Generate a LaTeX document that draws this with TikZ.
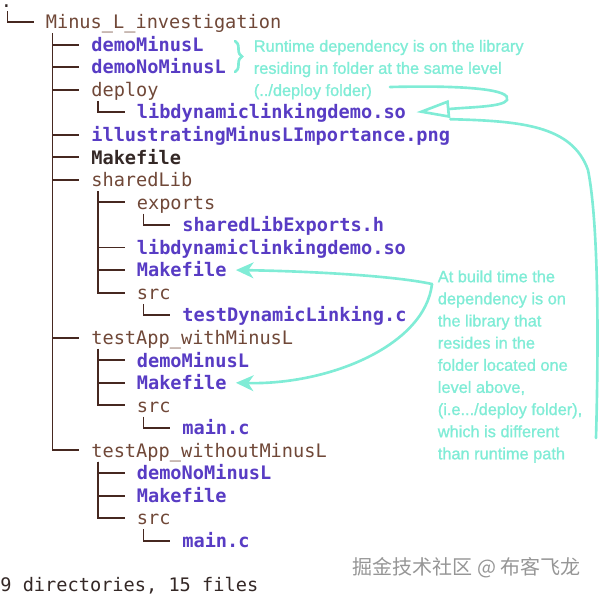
\documentclass[tikz,border=0pt]{standalone}
\usepackage{fontspec}
\newfontfamily\treefont{DejaVu Sans Mono}
\newfontfamily\notefont[FakeBold=1.2]{Liberation Sans}
\newfontfamily\cjkfont{Noto Sans CJK SC}
\usepackage{tikz}
\usetikzlibrary{arrows.meta,decorations.pathreplacing}

\definecolor{dirbrown}{RGB}{112,72,56}
\definecolor{filepurple}{RGB}{88,60,196}
\definecolor{plaindark}{RGB}{52,40,38}
\definecolor{linebrown}{RGB}{70,40,32}
\definecolor{notecyan}{RGB}{128,236,214}
\definecolor{wmgray}{RGB}{150,150,150}

\tikzset{
  entry/.style={anchor=west,inner sep=0pt,text height=10pt,text depth=2.3pt},
  dirname/.style={entry,text=dirbrown,font=\treefont\fontsize{10.6}{12}\selectfont},
  filename/.style={entry,text=filepurple,font=\treefont\bfseries\fontsize{10.6}{12}\selectfont},
  plainname/.style={entry,text=plaindark,font=\treefont\bfseries\fontsize{10.6}{12}\selectfont},
  treeline/.style={draw=linebrown,line width=1.1pt},
  note/.style={anchor=north west,inner sep=0pt,align=left,text=notecyan,
    font=\notefont\fontsize{9.3}{12.6}\selectfont},
  notearrow/.style={draw=notecyan,line width=1.5pt,line cap=round},
}

\begin{document}
\begin{tikzpicture}[x=0.02cm,y=-0.02cm]
  \useasboundingbox (0,0) rectangle (602,596);
  % directories (row/level/name/text)
  \foreach \r/\l/\nm/\txt in {1/1/root/Minus\_L\_investigation, 4/2/deploy/deploy,
      8/2/shared/sharedLib, 9/3/exports/exports, 13/3/srcA/src,
      15/2/withL/testApp\_withMinusL, 18/3/srcB/src,
      20/2/withoutL/testApp\_withoutMinusL, 23/3/srcC/src}
    \node[dirname] (\nm) at ({45.5*\l},{22+22.55*(\r-1)}) {\txt};
  % files
  \foreach \r/\l/\nm/\txt in {2/2/demoL/demoMinusL, 3/2/demoNoL/demoNoMinusL,
      5/3/deployLib/libdynamiclinkingdemo.so, 6/2/png/illustratingMinusLImportance.png,
      10/4/exportsH/sharedLibExports.h, 11/3/sharedSo/libdynamiclinkingdemo.so,
      12/3/sharedMk/Makefile, 14/4/testC/testDynamicLinking.c,
      16/3/withDemo/demoMinusL, 17/3/withMk/Makefile, 19/4/withMain/main.c,
      21/3/withoutDemo/demoNoMinusL, 22/3/withoutMk/Makefile, 24/4/withoutMain/main.c}
    \node[filename] (\nm) at ({45.5*\l},{22+22.55*(\r-1)}) {\txt};
  \node[plainname] (topMk) at (91,157.3) {Makefile};
  \node[dirname,text=plaindark,anchor=base west,text height=3pt] (dot) at (0.5,7) {.};
  \node[dirname,text=plaindark] (summary) at (0,584.5) {9 directories, 15 files};

  % tree branches
  \foreach \p/\c in {dot/root, root/demoL, root/demoNoL, root/deploy, root/png,
      root/topMk, root/shared, root/withL, root/withoutL, deploy/deployLib,
      shared/exports, shared/sharedSo, shared/sharedMk, shared/srcA,
      exports/exportsH, srcA/testC, withL/withDemo, withL/withMk, withL/srcB,
      srcB/withMain, withoutL/withoutDemo, withoutL/withoutMk, withoutL/srcC,
      srcC/withoutMain}
    \draw[treeline] ([xshift=0.14cm]\p.south west) |- ([xshift=-0.24cm]\c.west);

  % notes
  \draw[notearrow,decorate,decoration={brace,amplitude=0.14cm}] (235,41) -- (235,72);
  \node[note] (rtnote) at (253.5,39.5) {Runtime dependency is on the library\\
    residing in folder at the same level\\(../deploy folder)};
  \node[note] (btnote) at (437.5,270) {At build time the\\dependency is on\\
    the library that\\resides in the\\folder located one\\level above,\\
    (i.e.../deploy folder),\\which is different\\than runtime path};

  % runtime arrow
  \coordinate (rtstart) at (390,87);
  \coordinate (rtend) at (596,438);
  \coordinate (rttip) at ([xshift=0.2cm]deployLib.east);
  \draw[notearrow,-{Triangle[open,length=19pt,width=10pt]}] (rtstart)
    .. controls (470,85) and (512,90) .. (507,100)
    .. controls (503,107) and (470,107) .. (rttip);
  \draw[notearrow] (rtend) .. controls (599,330) and (598,220) .. (588,170)
    .. controls (572,125) and (520,121) .. ([xshift=0.68cm,yshift=-0.14cm]rttip);

  % build time arrows
  \coordinate (btstart) at (432,284);
  \draw[notearrow,-{Stealth[length=10pt,width=9pt,inset=3pt]}] (btstart)
    .. controls (390,275) and (300,271) .. ([xshift=0.18cm]sharedMk.east);
  \draw[notearrow,-{Stealth[length=10pt,width=9pt,inset=3pt]}] (btstart)
    .. controls (425,345) and (330,385) .. ([xshift=0.18cm]withMk.east);

  % watermark
  \node[anchor=west,inner sep=0pt,text=wmgray,font=\cjkfont\fontsize{11.4}{12}\selectfont]
    (mark) at (352,568) {掘金技术社区 @ 布客飞龙};
\end{tikzpicture}
\end{document}
